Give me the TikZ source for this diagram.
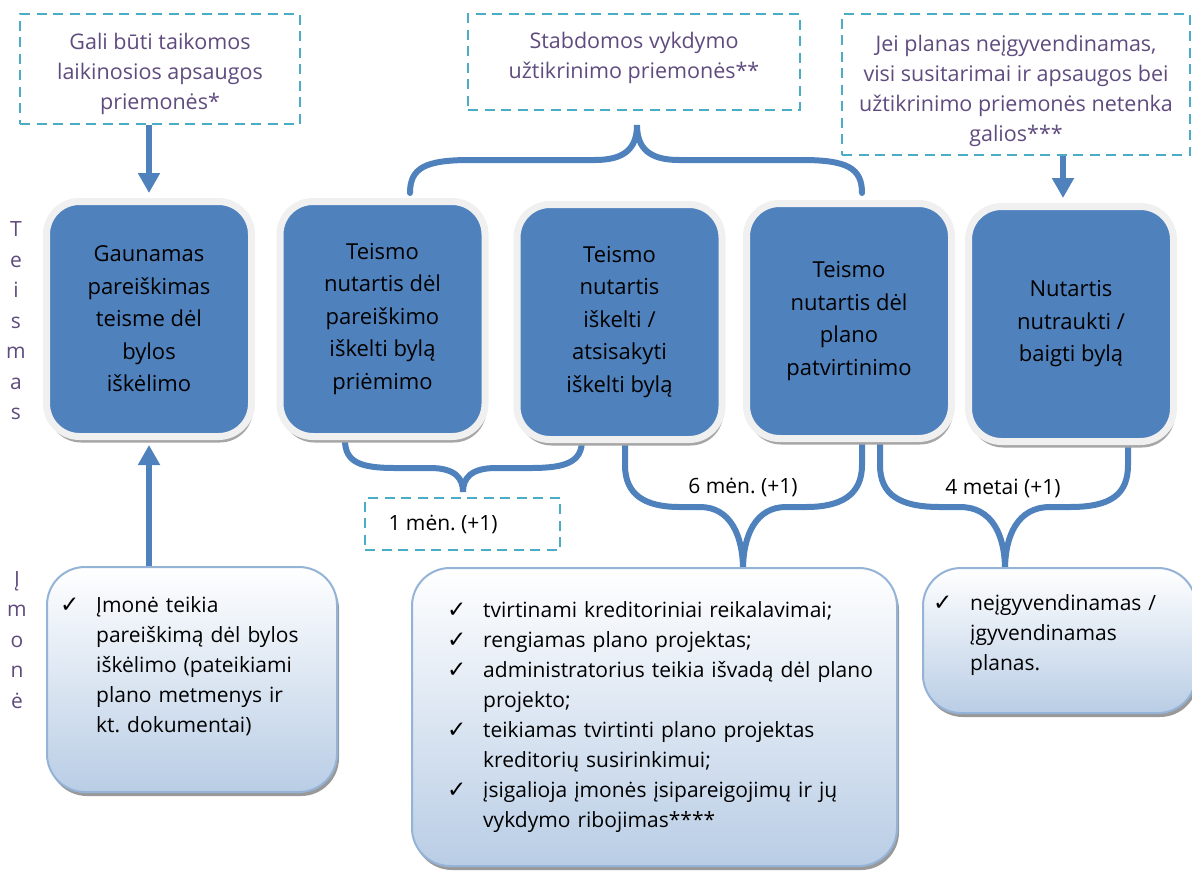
\documentclass[tikz,border=0pt]{standalone}
\usepackage{fontspec}
\setmainfont{Open Sans}
\newfontfamily\dejavu{DejaVu Sans}
\usetikzlibrary{arrows.meta,shadows}
\definecolor{boxblue}{HTML}{4F81BD}
\definecolor{dashc}{HTML}{4BACC6}
\definecolor{purp}{HTML}{5F4B7E}
\definecolor{lborder}{HTML}{95B3D7}
\definecolor{lbottom}{HTML}{B9CDE5}
\newcommand\chkitem[2]{\par\noindent\hangindent=#1\hangafter=1\makebox[#1][l]{\dejavu\fontsize{23}{23}\selectfont ✓}#2\par}
\tikzset{
  bluebox/.style={rounded corners=33pt, fill=boxblue, draw=white!94!black, line width=7pt,
    minimum width=205pt, minimum height=235pt, align=center, text=black,
    font=\fontsize{22}{32.5}\selectfont\frenchspacing,
    drop shadow={shadow xshift=1.5pt, shadow yshift=-6pt, fill=black!35, opacity=1}},
  dashbox/.style={draw=dashc, line width=2.5pt, dash pattern=on 10pt off 6.5pt},
  dtext/.style={align=center, text=purp, font=\fontsize{21.5}{30}\selectfont\frenchspacing},
  lightbox/.style={rounded corners=38pt, top color=white, bottom color=lbottom,
    draw=lborder, line width=2pt,
    drop shadow={shadow xshift=2pt, shadow yshift=-4pt, fill=black!40, opacity=1}},
  listtext/.style={anchor=north west, inner sep=0pt, align=left, text=black,
    font=\fontsize{21}{30}\selectfont\frenchspacing},
  sidelab/.style={align=center, text=purp, font=\fontsize{21}{30.5}\selectfont},
  brace/.style={draw=boxblue, line width=6pt, line cap=round},
  bigarrow/.style={draw=boxblue, line width=6pt, -{Triangle[width=21pt,length=20pt]}},
  plain/.style={text=black, font=\fontsize{21}{30}\selectfont\frenchspacing}
}
\begin{document}
\begin{tikzpicture}[x=1pt,y=-1pt]
\useasboundingbox (0,0) rectangle (1192,871);

% braces (drawn first, boxes cover their ends)
\draw[brace] (410,193) .. controls (410,168) and (425,160) .. (470,160) -- (595,160)
  .. controls (625,160) and (637,148) .. (637,125)
  .. controls (637,148) and (649,160) .. (679,160) -- (802,160)
  .. controls (847,160) and (862,168) .. (862,193);
\draw[brace] (345,440) .. controls (345,462) and (360,468) .. (395,468) -- (430,468)
  .. controls (455,468) and (463,478) .. (463,492)
  .. controls (463,478) and (471,468) .. (496,468) -- (531,468)
  .. controls (566,468) and (582,462) .. (582,440);
\draw[brace] (625,440) -- (625,465) .. controls (625,495) and (645,507) .. (680,507) -- (700,507)
  .. controls (730,507) and (743,535) .. (743,570)
  .. controls (743,535) and (756,507) .. (786,507) -- (806,507)
  .. controls (841,507) and (862,495) .. (862,465) -- (862,440);
\draw[brace] (880,440) -- (880,465) .. controls (880,495) and (900,507) .. (940,507) -- (960,507)
  .. controls (992,507) and (1005,535) .. (1005,570)
  .. controls (1005,535) and (1018,507) .. (1050,507) -- (1070,507)
  .. controls (1110,507) and (1128,495) .. (1128,465) -- (1128,440);

% dashed boxes
\node[dashbox, minimum width=280pt, minimum height=110pt] (d1) at (160,69) {};
\node[dtext] (d1t) at (160,74) {Gali būti taikomos\\laikinosios apsaugos\\priemonės*};
\node[dashbox, minimum width=332pt, minimum height=96pt] (d2) at (634,62) {};
\node[dtext] (d2t) at (634,58) {Stabdomos vykdymo\\užtikrinimo priemonės**};
\node[dashbox, minimum width=348pt, minimum height=141pt] (d3) at (1016,84.5) {};
\node[dtext] (d3t) at (1016,91) {Jei planas neįgyvendinamas,\\visi susitarimai ir apsaugos bei\\užtikrinimo priemonės netenka\\galios***};
\node[dashbox, minimum width=195pt, minimum height=52pt] (m1) at (462.5,524) {};
\node[plain, anchor=west] (m1t) at (385,524) {1 mėn. (+1)};

% blue boxes
\node[bluebox] (b1) at (149,319) {Gaunamas\\pareiškimas\\teisme dėl\\bylos\\iškėlimo};
\node[bluebox] (b2) at (382.5,319) {Teismo\\nutartis dėl\\pareiškimo\\iškelti bylą\\priėmimo};
\node[bluebox] (b3) at (619.5,322) {Teismo\\nutartis\\iškelti /\\atsisakyti\\iškelti bylą};
\node[bluebox] (b4) at (849,321) {Teismo\\nutartis dėl\\plano\\patvirtinimo};
\node[bluebox] (b5) at (1071,324) {Nutartis\\nutraukti /\\baigti bylą};

% light boxes
\node[lightbox, minimum width=290pt, minimum height=225pt] (l1) at (192,679.5) {};
\node[lightbox, minimum width=485pt, minimum height=298pt] (l2) at (654.5,717) {};
\node[lightbox, minimum width=273pt, minimum height=145pt] (l3) at (1059.5,640.5) {};

\node[listtext, text width=270pt] (t1) at (60,582) {%
  \chkitem{36pt}{Įmonė teikia\newline pareiškimą dėl bylos\newline iškėlimo (pateikiami\newline plano metmenys ir\newline kt. dokumentai)}};
\node[listtext, text width=440pt] (t2) at (447,587) {%
  \chkitem{36pt}{tvirtinami kreditoriniai reikalavimai;}%
  \chkitem{36pt}{rengiamas plano projektas;}%
  \chkitem{36pt}{administratorius teikia išvadą dėl plano\newline projekto;}%
  \chkitem{36pt}{teikiamas tvirtinti plano projektas\newline kreditorių susirinkimui;}%
  \chkitem{36pt}{įsigalioja įmonės įsipareigojimų ir jų\newline vykdymo ribojimas****}};
\node[listtext, text width=240pt] (t3) at (933,580) {%
  \chkitem{37pt}{neįgyvendinamas /\newline įgyvendinamas\newline planas.}};

% arrows
\coordinate (a3x) at (1063,0);
\draw[bigarrow, shorten >=5pt] (b1.north |- d1.south) -- (b1.north);
\draw[bigarrow, shorten >=5pt] (d3.south -| a3x) -- (b5.north -| a3x);
\draw[bigarrow, shorten >=5pt] (l1.north -| b1.south) -- (b1.south);

% labels
\node[plain] (lab6) at (743,487) {6 mėn. (+1)};
\node[plain] (lab4) at (1003,488) {4 metai (+1)};
\node[sidelab] (teis) at (16,321) {T\\e\\i\\s\\m\\a\\s};
\node[sidelab] (imon) at (17,640) {Į\\m\\o\\n\\ė};
\end{tikzpicture}
\end{document}
